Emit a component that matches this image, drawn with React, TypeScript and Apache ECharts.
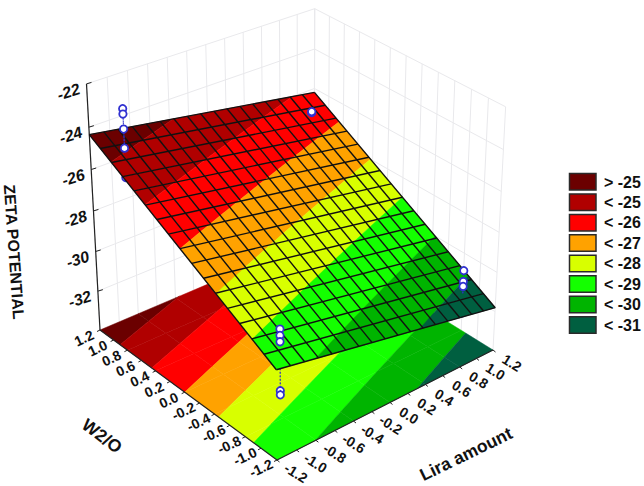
import React, { useEffect, useRef } from "react";
import * as echarts from "echarts";

// ---- chart data ----
const liraTicks = [-1.2, -1.0, -0.8, -0.6, -0.4, -0.2, 0.0, 0.2, 0.4, 0.6, 0.8, 1.0, 1.2];
const w2oTicks = [1.2, 1.0, 0.8, 0.6, 0.4, 0.2, 0.0, -0.2, -0.4, -0.6, -0.8, -1.0, -1.2];
const zetaTicks = [-22, -24, -26, -28, -30, -32];
const zetaFloor = -34;
const zetaCeil = -22;

// fitted plane: zeta at the four corners of the design region
const cornerZetaHighW2O = [-24.35, -26.2]; // w2o = 1.2, lira = -1.2 / 1.2
const cornerZetaLowW2O = [-29.65, -31.8]; // w2o = -1.2, lira = -1.2 / 1.2

const legendLabels = ["> -25", "< -25", "< -26", "< -27", "< -28", "< -29", "< -30", "< -31"];
const bandUpper = [Infinity, -25, -26, -27, -28, -29, -30, -31];
const bandLower = [-25, -26, -27, -28, -29, -30, -31, -Infinity];
const bandColors = ["#6b0000", "#b00000", "#ff0000", "#ffa200", "#d8ff00", "#14ff00", "#00b400", "#005f40"];

const obsLira = [-1, -1, -1, -1, -1, 1, 1, 1, -1, -1, -1, -1, -1, 1, 1, 1, 1];
const obsW2O = [1, 1, 1, 1, 1, 1, 1, 1, -1, -1, -1, -1, -1, -1, -1, -1, -1];
const obsZeta = [-23.05, -23.3, -24.0, -24.9, -26.3, -26.5, -26.45, -26.8, -28.7, -29.0, -29.3, -31.65, -31.85, -30.0, -30.55, -30.8, -32.15];

const meshCellsLira = 17;
const meshCellsW2O = 16;

// ---- 3D view: where the box corners fall on the page ----
const view = {
  floor: { L: [100, 330], K: [314, 239], R: [493, 350], B: [277, 460] },
  top: { L: [89, 89], K: [313, 2], R: [505, 109] },
};

function solve3(A: number[][], b: number[]) {
  const m = A.map((r, i) => [...r, b[i]]);
  for (let i = 0; i < 3; i++) {
    let p = i;
    for (let k = i + 1; k < 3; k++) if (Math.abs(m[k][i]) > Math.abs(m[p][i])) p = k;
    [m[i], m[p]] = [m[p], m[i]];
    for (let k = 0; k < 3; k++) {
      if (k === i) continue;
      const f = m[k][i] / m[i][i];
      for (let j = i; j < 4; j++) m[k][j] -= f * m[i][j];
    }
  }
  return [m[0][3] / m[0][0], m[1][3] / m[1][1], m[2][3] / m[2][2]];
}

function buildProjection() {
  const { L, K, R, B } = view.floor;
  const dx1 = K[0] - R[0], dx2 = B[0] - R[0], sx = L[0] - K[0] + R[0] - B[0];
  const dy1 = K[1] - R[1], dy2 = B[1] - R[1], sy = L[1] - K[1] + R[1] - B[1];
  const den = dx1 * dy2 - dx2 * dy1;
  const g = (sx * dy2 - dx2 * sy) / den;
  const h = (dx1 * sy - sx * dy1) / den;
  const a = K[0] - L[0] + g * K[0], b = B[0] - L[0] + h * B[0], c = L[0];
  const d = K[1] - L[1] + g * K[1], e = B[1] - L[1] + h * B[1], f = L[1];
  const base = (s: number, t: number) => [a * s + b * t + c, d * s + e * t + f, g * s + h * t + 1];
  const rows: number[][] = [];
  const rhs: number[] = [];
  const add = (s: number, t: number, p: number[]) => {
    const q = base(s, t);
    rows.push([1, 0, -p[0]]); rhs.push(p[0] * q[2] - q[0]);
    rows.push([0, 1, -p[1]]); rhs.push(p[1] * q[2] - q[1]);
  };
  add(0, 0, view.top.L); add(1, 0, view.top.K); add(1, 1, view.top.R);
  const AtA = [0, 1, 2].map((i) => [0, 1, 2].map((j) => rows.reduce((acc, r) => acc + r[i] * r[j], 0)));
  const Atb = [0, 1, 2].map((i) => rows.reduce((acc, r, k) => acc + r[i] * rhs[k], 0));
  const up = solve3(AtA, Atb);
  return (lira: number, w2o: number, z: number): number[] => {
    const s = (lira + 1.2) / 2.4, t = (1.2 - w2o) / 2.4, q = (z - zetaFloor) / (zetaCeil - zetaFloor);
    const p = base(s, t);
    const w = p[2] + q * up[2];
    return [(p[0] + q * up[0]) / w, (p[1] + q * up[1]) / w];
  };
}
const project = buildProjection();

function surfaceZeta(lira: number, w2o: number) {
  const s = (lira + 1.2) / 2.4, t = (1.2 - w2o) / 2.4;
  const hi = cornerZetaHighW2O[0] * (1 - s) + cornerZetaHighW2O[1] * s;
  const lo = cornerZetaLowW2O[0] * (1 - s) + cornerZetaLowW2O[1] * s;
  return hi * (1 - t) + lo * t;
}

type V = { lira: number; w2o: number; z: number };
function clipAbove(poly: V[], level: number, keepAbove: boolean) {
  const inside = (v: V) => (keepAbove ? v.z >= level : v.z <= level);
  const out: V[] = [];
  poly.forEach((v, i) => {
    const n = poly[(i + 1) % poly.length];
    if (inside(v)) out.push(v);
    if (inside(v) !== inside(n)) {
      const k = (level - v.z) / (n.z - v.z);
      out.push({ lira: v.lira + k * (n.lira - v.lira), w2o: v.w2o + k * (n.w2o - v.w2o), z: level });
    }
  });
  return out;
}

function bandPieces(cellsLira: number, cellsW2O: number) {
  const pieces: { poly: V[]; color: string }[] = [];
  const stL = 2.4 / cellsLira, stW = 2.4 / cellsW2O;
  for (let i = 0; i < cellsLira; i++) {
    for (let j = 0; j < cellsW2O; j++) {
      const l0 = -1.2 + i * stL, l1 = l0 + stL, w0 = 1.2 - j * stW, w1 = w0 - stW;
      const quad: V[] = [[l0, w0], [l1, w0], [l1, w1], [l0, w1]].map(([lira, w2o]) => ({ lira, w2o, z: surfaceZeta(lira, w2o) }));
      bandColors.forEach((color, b) => {
        let poly = quad;
        if (isFinite(bandUpper[b])) poly = clipAbove(poly, bandUpper[b], false);
        if (poly.length && isFinite(bandLower[b])) poly = clipAbove(poly, bandLower[b], true);
        if (poly.length > 2) pieces.push({ poly, color });
      });
    }
  }
  return pieces;
}

function layer<T>(items: T[], draw: (item: T) => any) {
  return {
    type: "custom",
    coordinateSystem: "none",
    silent: true,
    clip: false,
    animation: false,
    data: items.map((_, i) => [i]),
    renderItem: (params: any) => draw(items[params.dataIndex]),
  };
}

const lineEl = (a: number[], b: number[], stroke: string, lineWidth: number, lineDash?: number[]) => ({
  type: "line",
  shape: { x1: a[0], y1: a[1], x2: b[0], y2: b[1] },
  style: { stroke, lineWidth, lineDash, fill: null },
});

const textEl = (text: string, p: number[], deg: number, font: string) => ({
  type: "text",
  x: p[0],
  y: p[1],
  rotation: (deg * Math.PI) / 180,
  style: { text, font, fill: "#111", align: "center", verticalAlign: "middle" },
});

function buildOption() {
  const wall = "#e9e9ec";
  const wallLines: number[][][] = [];
  for (const l of liraTicks) wallLines.push([project(l, 1.2, zetaFloor), project(l, 1.2, zetaCeil)]);
  for (const w of w2oTicks) wallLines.push([project(1.2, w, zetaFloor), project(1.2, w, zetaCeil)]);
  for (const z of [...zetaTicks]) {
    wallLines.push([project(-1.2, 1.2, z), project(1.2, 1.2, z)]);
    wallLines.push([project(1.2, 1.2, z), project(1.2, -1.2, z)]);
  }

  const toPts = (poly: V[], z?: number) => poly.map((v) => project(v.lira, v.w2o, z ?? v.z));
  const polyEl = (pts: number[][], color: string) => ({
    type: "polygon",
    shape: { points: pts },
    style: { fill: color, stroke: color, lineWidth: 0.5 },
  });

  const floorPieces = bandPieces(6, 6).map((p) => ({ pts: toPts(p.poly, zetaFloor), color: p.color }));
  const surfPieces = bandPieces(meshCellsLira, meshCellsW2O).map((p) => ({ pts: toPts(p.poly), color: p.color }));

  const meshLines: number[][][] = [];
  for (let i = 0; i <= meshCellsLira; i++) {
    const l = -1.2 + (i * 2.4) / meshCellsLira;
    meshLines.push([project(l, 1.2, surfaceZeta(l, 1.2)), project(l, -1.2, surfaceZeta(l, -1.2))]);
  }
  for (let i = 0; i <= meshCellsW2O; i++) {
    const w = 1.2 - (i * 2.4) / meshCellsW2O;
    meshLines.push([project(-1.2, w, surfaceZeta(-1.2, w)), project(1.2, w, surfaceZeta(1.2, w))]);
  }

  const axisLines = [
    [project(-1.2, 1.2, zetaFloor), project(-1.2, 1.2, zetaCeil)],
    [project(-1.2, 1.2, zetaFloor), project(-1.2, -1.2, zetaFloor)],
    [project(-1.2, -1.2, zetaFloor), project(1.2, -1.2, zetaFloor)],
  ];
  const ticks: number[][][] = [];
  for (const z of zetaTicks) {
    const p = project(-1.2, 1.2, z);
    ticks.push([p, [p[0] + 5, p[1] - 1.5]]);
  }
  for (const w of w2oTicks) {
    const p = project(-1.2, w, zetaFloor);
    ticks.push([p, [p[0] - 3, p[1] + 1.5]]);
  }
  for (const l of liraTicks) {
    const p = project(l, -1.2, zetaFloor);
    ticks.push([p, [p[0] + 2.5, p[1] + 2]]);
  }

  const labels: any[] = [];
  const tickFont = 'bold 14px "Liberation Sans", Arial, sans-serif';
  const fmt = (v: number) => v.toFixed(1);
  w2oTicks.forEach((w) => {
    const p = project(-1.2, w, zetaFloor);
    labels.push(textEl(fmt(w), [p[0] - 16, p[1] + 8], 25, tickFont));
  });
  liraTicks.forEach((l) => {
    const p = project(l, -1.2, zetaFloor);
    labels.push(textEl(fmt(l), [p[0] + 19, p[1] + 13], -32, tickFont));
  });
  zetaTicks.forEach((z) => {
    const p = project(-1.2, 1.2, z);
    labels.push(textEl(String(z), [p[0] - 18, p[1] + 8], 18, 'italic bold 16px "Liberation Sans", Arial, sans-serif'));
  });
  labels.push(textEl("ZETA POTENTIAL", [14, 252], -86, 'bold 16px "Liberation Sans", Arial, sans-serif'));
  labels.push(textEl("W2/O", [102, 436], -37, 'bold 17.5px "Liberation Sans", Arial, sans-serif'));
  labels.push(textEl("Lira amount", [466, 454], 26, 'bold 17.5px "Liberation Sans", Arial, sans-serif'));

  const obs = obsZeta.map((z, i) => {
    const lira = obsLira[i], w2o = obsW2O[i];
    const zs = surfaceZeta(lira, w2o);
    return { p: project(lira, w2o, z), s: project(lira, w2o, zs), above: z > zs };
  });
  const pointEl = (o: { p: number[]; s: number[] }) => ({
    type: "group",
    children: [
      lineEl(o.p, o.s, "#3030c8", 1, [1.5, 2]),
      {
        type: "circle",
        shape: { cx: o.p[0], cy: o.p[1], r: 3.7 },
        style: { fill: "#ffffff", stroke: "#3030d0", lineWidth: 1.8 },
      },
    ],
  });

  return {
    animation: false,
    backgroundColor: "#ffffff",
    series: [
      layer(wallLines, (l) => lineEl(l[0], l[1], wall, 1)),
      layer(floorPieces, (p) => polyEl(p.pts, p.color)),
      layer(axisLines, (l) => lineEl(l[0], l[1], "#222", 1.2)),
      layer(ticks, (l) => lineEl(l[0], l[1], "#222", 1)),
      layer(obs.filter((o) => !o.above), pointEl),
      layer(surfPieces, (p) => polyEl(p.pts, p.color)),
      layer(meshLines, (l) => lineEl(l[0], l[1], "#111", 1.4)),
      layer(obs.filter((o) => o.above), pointEl),
      layer(labels, (t) => t),
    ],
    graphic: legendLabels.flatMap((label, i) => [
      {
        type: "rect",
        shape: { x: 569.5, y: 173.5 + i * 20.45, width: 26.5, height: 16.5 },
        style: { fill: bandColors[i], stroke: "#2a2a2a", lineWidth: 1.5 },
      },
      {
        type: "text",
        x: 604,
        y: 182 + i * 20.45,
        style: { text: label, font: 'bold 16px "Liberation Sans", Arial, sans-serif', fill: "#111", align: "left", verticalAlign: "middle" },
      },
    ]),
  };
}

export default function App() {
  const ref = useRef<HTMLDivElement>(null);
  useEffect(() => {
    const chart = echarts.init(ref.current!, undefined, { renderer: "svg" });
    chart.setOption(buildOption() as any);
    return () => chart.dispose();
  }, []);
  return <div ref={ref} style={{ position: "absolute", left: 0, top: 0, width: 644, height: 486 }} />;
}
